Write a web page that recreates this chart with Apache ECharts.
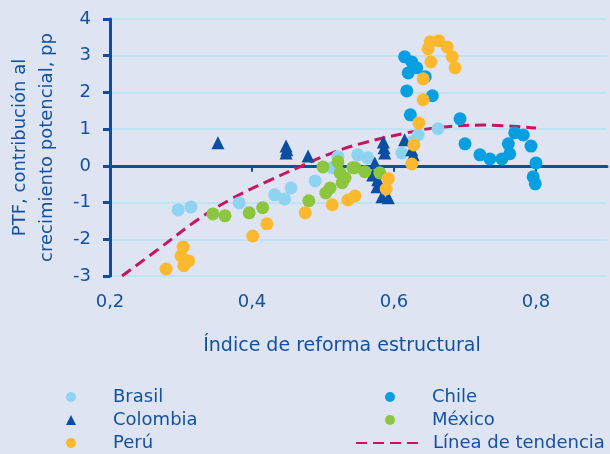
<!DOCTYPE html>
<html><head><meta charset="utf-8">
<script src="https://cdn.jsdelivr.net/npm/echarts@6/dist/echarts.min.js"></script>
<style>html,body{margin:0;padding:0;background:#dee4f1}#c{width:610px;height:454px}</style>
</head><body><div id="c"></div>
<script>
// ---- data ----
const xTicks = [0.2, 0.4, 0.6, 0.8];
const yTicks = [-3, -2, -1, 0, 1, 2, 3, 4];

const brasilX = [0.296,0.314,0.382,0.432,0.446,0.455,0.489,0.513,0.521,0.549,0.563,0.611,0.625,0.634,0.662];
const brasilY = [-1.20,-1.12,-1.01,-0.79,-0.90,-0.60,-0.41,-0.05,0.25,0.30,0.22,0.35,0.65,0.84,1.01];

const colombiaX = [0.352,0.448,0.449,0.448,0.479,0.573,0.570,0.576,0.583,0.592,0.577,0.585,0.586,0.587,0.615,0.625,0.627];
const colombiaY = [0.63,0.54,0.44,0.35,0.27,0.08,-0.25,-0.57,-0.84,-0.87,-0.38,0.65,0.49,0.35,0.71,0.44,0.30];

const peruX = [0.279,0.303,0.300,0.311,0.304,0.401,0.421,0.475,0.513,0.535,0.545,0.589,0.592,0.625,0.628,0.635,0.641,0.641,0.652,0.648,0.651,0.663,0.675,0.682,0.686];
const peruY = [-2.81,-2.21,-2.45,-2.59,-2.72,-1.91,-1.58,-1.28,-1.06,-0.93,-0.82,-0.63,-0.35,0.05,0.57,1.17,1.80,2.37,2.83,3.19,3.38,3.41,3.24,2.97,2.67];

const chileX = [0.615,0.625,0.620,0.632,0.644,0.618,0.654,0.623,0.693,0.700,0.721,0.735,0.752,0.761,0.763,0.770,0.782,0.793,0.800,0.796,0.799];
const chileY = [2.97,2.83,2.53,2.67,2.43,2.04,1.91,1.39,1.28,0.60,0.30,0.19,0.19,0.60,0.33,0.90,0.84,0.54,0.08,-0.30,-0.49];

const mexicoX = [0.345,0.362,0.396,0.415,0.480,0.500,0.504,0.510,0.521,0.524,0.527,0.531,0.542,0.545,0.559,0.580];
const mexicoY = [-1.31,-1.36,-1.28,-1.14,-0.95,-0.03,-0.74,-0.60,0.11,-0.19,-0.46,-0.33,-0.05,-0.05,-0.16,-0.19];

const trendX = [0.217,0.266,0.327,0.373,0.421,0.468,0.514,0.552,0.618,0.665,0.725,0.800];
const trendY = [-3.00,-2.30,-1.42,-0.88,-0.43,-0.02,0.36,0.60,0.90,1.05,1.11,1.03];

const names = {br:'Brasil', co:'Colombia', pe:'Perú', cl:'Chile', mx:'México', tr:'Línea de tendencia'};
const xTitle = 'Índice de reforma estructural';
const yTitle = 'PTF, contribución al\ncrecimiento potencial, pp';

// ---- build ----
const zip = (xs, ys) => xs.map((x, i) => [x, ys[i]]);
const FONT = 'DejaVu Sans';
const TXT = '#1352a2';
const AX = '#0b4ea2';

const chart = echarts.init(document.getElementById('c'), null, {renderer: 'canvas'});
const scatter = (name, xs, ys, color, symbol, size) => ({
  name, type: 'scatter', xAxisIndex: 0, yAxisIndex: 0,
  data: zip(xs, ys), symbol, symbolSize: size,
  itemStyle: {color, opacity: 1}, emphasis: {disabled: true}
});
const legendCommon = {
  orient: 'vertical', padding: 0, itemGap: 3, itemWidth: 10, itemHeight: 10,
  selectedMode: false,
  textStyle: {fontFamily: FONT, fontSize: 18, color: TXT, lineHeight: 20, padding: [0, 0, 0, 32]}
};

chart.setOption({
  animation: false,
  backgroundColor: '#dee4f1',
  grid: {left: 110, right: 3, top: 19, bottom: 178, containLabel: false, outerBoundsMode: 'none'},
  xAxis: [
    {
      type: 'value', min: 0.2, max: 0.9, interval: 0.2, position: 'bottom',
      axisLine: {show: false, onZero: false}, axisTick: {show: false}, splitLine: {show: false},
      axisLabel: {
        margin: 17, fontFamily: FONT, fontSize: 18, color: TXT, showMaxLabel: false,
        formatter: v => (xTicks.some(t => Math.abs(t - v) < 1e-6) ? v.toFixed(1).replace('.', ',') : '')
      }
    },
    {
      type: 'value', min: 0.2, max: 0.9, interval: 0.2, position: 'bottom',
      axisLine: {show: true, onZero: true, lineStyle: {color: AX, width: 3}},
      axisTick: {show: true, inside: false, length: 6, customValues: xTicks, lineStyle: {color: AX, width: 2}},
      axisLabel: {show: false}, splitLine: {show: false}
    }
  ],
  yAxis: {
    type: 'value', min: -3, max: 4, interval: 1,
    axisLine: {show: true, onZero: false, lineStyle: {color: AX, width: 3}},
    axisTick: {show: true, inside: false, length: 7, lineStyle: {color: AX, width: 3}},
    splitLine: {show: true, lineStyle: {color: '#bde3f6', width: 2}},
    axisLabel: {margin: 19, fontFamily: FONT, fontSize: 18, color: TXT,
      formatter: v => (yTicks.includes(v) ? String(v) : '')},
    name: yTitle, nameLocation: 'middle', nameRotate: 90, nameGap: 49,
    nameTextStyle: {fontFamily: FONT, fontSize: 18, color: TXT, lineHeight: 27, align: 'center'}
  },
  legend: [
    Object.assign({}, legendCommon, {left: 66, top: 387, data: [names.br, names.co, names.pe]}),
    Object.assign({}, legendCommon, {left: 385, top: 387, data: [names.cl, names.mx]}),
    Object.assign({}, legendCommon, {left: 355, top: 433, itemWidth: 64, itemHeight: 10,
      itemStyle: {opacity: 0},
      textStyle: Object.assign({}, legendCommon.textStyle, {padding: [0, 0, 0, 8]}), data: [names.tr]})
  ],
  graphic: [{
    type: 'text', x: 342, y: 346,
    style: {text: xTitle, font: '19px "' + FONT + '"', fill: TXT, align: 'center', verticalAlign: 'middle'}
  }],
  series: [
    {
      name: names.tr, type: 'line', xAxisIndex: 0, yAxisIndex: 0, data: zip(trendX, trendY),
      smooth: 0.4, symbol: 'none', z: 1,
      lineStyle: {color: '#c8155f', width: 3, type: [11, 6]}, itemStyle: {color: '#c8155f'},
      emphasis: {disabled: true}
    },
    scatter(names.br, brasilX, brasilY, '#8fd3f3', 'circle', 13),
    scatter(names.cl, chileX, chileY, '#079fe2', 'circle', 13),
    scatter(names.co, colombiaX, colombiaY, '#0b4ea2', 'triangle', 13),
    scatter(names.mx, mexicoX, mexicoY, '#8cc63f', 'circle', 13),
    scatter(names.pe, peruX, peruY, '#fdb92e', 'circle', 13)
  ]
});
</script></body></html>
